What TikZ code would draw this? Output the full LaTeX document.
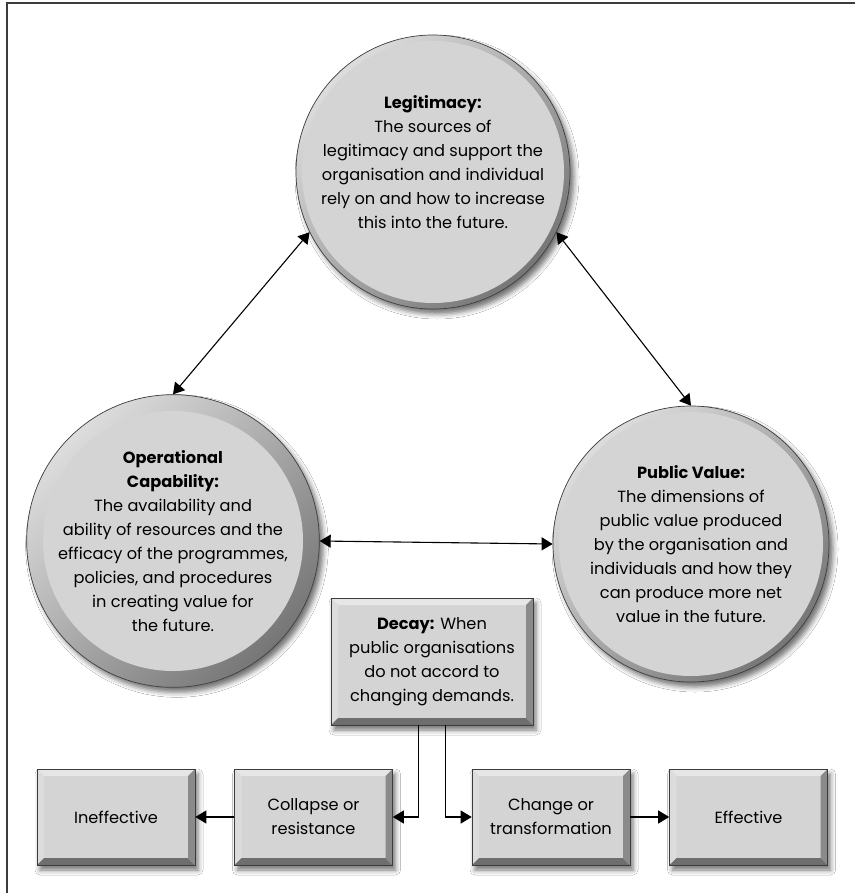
\documentclass[tikz,border=0pt]{standalone}
\usepackage{fontspec}
\setmainfont{Poppins}
\usetikzlibrary{arrows.meta,calc,shadows.blur}
\definecolor{facecol}{HTML}{D4D4D4}
\definecolor{rimlight}{HTML}{DDDDDD}
\definecolor{rimdark}{HTML}{767676}
\definecolor{edgecol}{HTML}{3C3C3C}
\definecolor{bevtop}{HTML}{E6E6E6}
\definecolor{bevleft}{HTML}{DCDCDC}
\definecolor{bevbot}{HTML}{6E6E6E}
\definecolor{bevright}{HTML}{8A8A8A}
\tikzset{
  txt/.style={font=\fontsize{16.2}{24}\selectfont, align=center, text=black},
  circ/.style={circle, minimum size=#1, inner sep=0pt, fill=facecol, draw=edgecol, line width=0.7pt, txt,
    blur shadow={shadow xshift=4pt, shadow yshift=-5pt, shadow blur radius=5pt, shadow opacity=55},
    path picture={
      \shade[shading=axis, top color=rimlight, bottom color=rimdark, shading angle=45]
        (path picture bounding box.south west) rectangle (path picture bounding box.north east);
      \fill[facecol] (path picture bounding box.center) circle[radius=#1/2-6pt];
    }},
  bevbox/.style={rectangle, inner sep=0pt, fill=facecol, draw=edgecol, line width=0.6pt, txt,
    blur shadow={shadow xshift=3pt, shadow yshift=-5pt, shadow blur radius=5pt, shadow opacity=55},
    path picture={
      \coordinate (bnw) at (path picture bounding box.north west);
      \coordinate (bne) at (path picture bounding box.north east);
      \coordinate (bsw) at (path picture bounding box.south west);
      \coordinate (bse) at (path picture bounding box.south east);
      \fill[bevtop] (bnw) -- (bne) -- ($(bne)+(-7pt,-7pt)$) -- ($(bnw)+(7pt,-7pt)$) -- cycle;
      \fill[bevleft] (bnw) -- (bsw) -- ($(bsw)+(7pt,7pt)$) -- ($(bnw)+(7pt,-7pt)$) -- cycle;
      \fill[bevbot] (bsw) -- (bse) -- ($(bse)+(-7pt,7pt)$) -- ($(bsw)+(7pt,7pt)$) -- cycle;
      \fill[bevright] (bne) -- (bse) -- ($(bse)+(-7pt,7pt)$) -- ($(bne)+(-7pt,-7pt)$) -- cycle;
    }},
  smallbox/.style={bevbox, minimum width=158pt, minimum height=96pt},
  conn/.style={line width=1.1pt, draw=black},
  tip/.style={-{Triangle[length=11pt,width=13pt]}},
  tips/.style={{Triangle[length=11pt,width=13pt]}-{Triangle[length=11pt,width=13pt]}},
}
\begin{document}
\begin{tikzpicture}[x=1pt, y=-1pt]
\useasboundingbox (0,0) rectangle (855,893);
\fill[white] (0,0) rectangle (855,893);
\draw[line width=2pt, draw=edgecol] (7,893) -- (7,3) -- (855,3);

\node[circ=274pt] (legit) at (433,172) {\textbf{Legitimacy:}\\The sources of\\legitimacy and support the\\organisation and individual\\rely on and how to increase\\this into the future.\\[-4pt]\mbox{}};
\node[circ=272pt] (op) at (173,541) {\textbf{Operational}\\\textbf{Capability:}\\The availability and\\ability of resources and the\\efficacy of the programmes,\\policies, and procedures\\in creating value for\\the future.};
\node[circ=276pt] (pv) at (691,544) {\textbf{Public Value:}\\The dimensions of\\public value produced\\by the organisation and\\individuals and how they\\can produce more net\\value in the future.};

\node[bevbox, minimum width=202pt, minimum height=127pt] (decay) at (432,661.5) {\textbf{Decay:} When\\public organisations\\do not accord to\\changing demands.};

\node[smallbox] (ineff) at (116,817) {Ineffective};
\node[smallbox] (collapse) at (313.5,817) {Collapse or\\resistance};
\node[smallbox] (change) at (551,817) {Change or\\transformation};
\node[smallbox] (eff) at (748.5,817) {Effective};

\draw[conn, tips] (legit.206) -- (op.north);
\draw[conn, tips] (legit.334) -- (pv.north);
\draw[conn, tips] (op.east) -- (pv.west);
\draw[conn, tip] ([xshift=-13.5pt]decay.south) |- (collapse.east);
\draw[conn, tip] ([xshift=13.5pt]decay.south) |- (change.west);
\draw[conn, tip] (collapse.west) -- (ineff.east);
\draw[conn, tip] (change.east) -- (eff.west);
\end{tikzpicture}
\end{document}
